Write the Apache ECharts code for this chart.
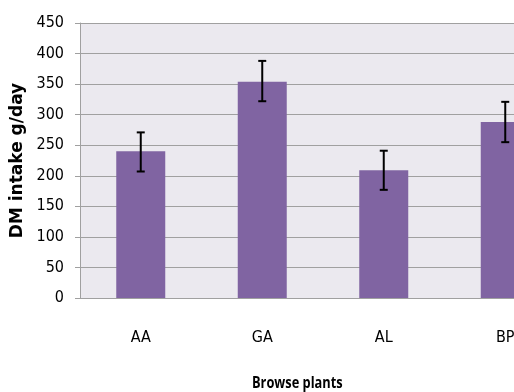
<!DOCTYPE html>
<html>
<head>
<meta charset="utf-8">
<script src="https://cdn.jsdelivr.net/npm/echarts@6/dist/echarts.min.js"></script>
<style>
  html, body { margin: 0; padding: 0; background: #ffffff; overflow: hidden; }
  #chart { width: 600px; height: 392px; }
</style>
</head>
<body>
<div id="chart"></div>
<script>
// Dry matter intake per browse plant, with standard error
const categories = ['AA', 'GA', 'AL', 'BP'];
const intake = [240, 354, 209, 288];
const errLow = [207, 322, 177, 255];
const errHigh = [271, 388, 241, 321];
const yTicks = [0, 50, 100, 150, 200, 250, 300, 350, 400, 450];

const FONT = '"DejaVu Sans Condensed", "Liberation Sans Narrow", "Open Sans", sans-serif';
const BOLD_FONT = '"Open Sans", "DejaVu Sans", sans-serif';

const chart = echarts.init(document.getElementById('chart'));

chart.setOption({
  animation: false,
  backgroundColor: '#ffffff',
  graphic: [
    {
      type: 'text',
      left: 252,
      top: 375,
      scaleX: 0.8,
      style: {
        text: 'Browse plants',
        font: 'bold 16px ' + BOLD_FONT,
        fill: '#000'
      }
    }
  ],
  grid: {
    left: 80,
    top: 23,
    width: 486,
    height: 275,
    containLabel: false,
    outerBoundsMode: 'none',
    show: true,
    backgroundColor: '#ebe9ef',
    borderWidth: 0
  },
  xAxis: {
    type: 'category',
    data: categories,
    axisLine: { lineStyle: { color: '#a0a0a0', width: 1 } },
    axisTick: { show: false },
    axisLabel: { margin: 32, fontFamily: FONT, fontSize: 16, color: '#000' }
  },
  yAxis: {
    type: 'value',
    min: yTicks[0],
    max: yTicks[yTicks.length - 1],
    interval: 50,
    name: 'DM intake g/day',
    nameLocation: 'middle',
    nameGap: 51,
    nameRotate: 90,
    nameTextStyle: { fontFamily: '"DejaVu Sans", sans-serif', fontWeight: 'bold', fontSize: 17, color: '#000' },
    axisLine: { show: true, lineStyle: { color: '#a0a0a0', width: 1 } },
    axisTick: { show: true, length: 5, lineStyle: { color: '#a0a0a0' } },
    axisLabel: { margin: 16, fontFamily: FONT, fontSize: 16, color: '#000' },
    splitLine: { lineStyle: { color: '#a0a0a0', width: 1 } }
  },
  series: [
    {
      type: 'bar',
      data: intake,
      barWidth: 49,
      itemStyle: { color: '#8064a2' },
      z: 2
    },
    {
      type: 'custom',
      z: 5,
      data: categories.map((c, i) => [i, errLow[i], errHigh[i]]),
      renderItem: function (params, api) {
        const lo = api.coord([api.value(0), api.value(1)]);
        const hi = api.coord([api.value(0), api.value(2)]);
        const cap = 4;
        const style = { stroke: '#000', lineWidth: 2 };
        return {
          type: 'group',
          children: [
            { type: 'line', shape: { x1: lo[0], y1: lo[1], x2: hi[0], y2: hi[1] }, style: style },
            { type: 'line', shape: { x1: hi[0] - cap, y1: hi[1], x2: hi[0] + cap, y2: hi[1] }, style: style },
            { type: 'line', shape: { x1: lo[0] - cap, y1: lo[1], x2: lo[0] + cap, y2: lo[1] }, style: style }
          ]
        };
      }
    }
  ]
});
</script>
</body>
</html>
